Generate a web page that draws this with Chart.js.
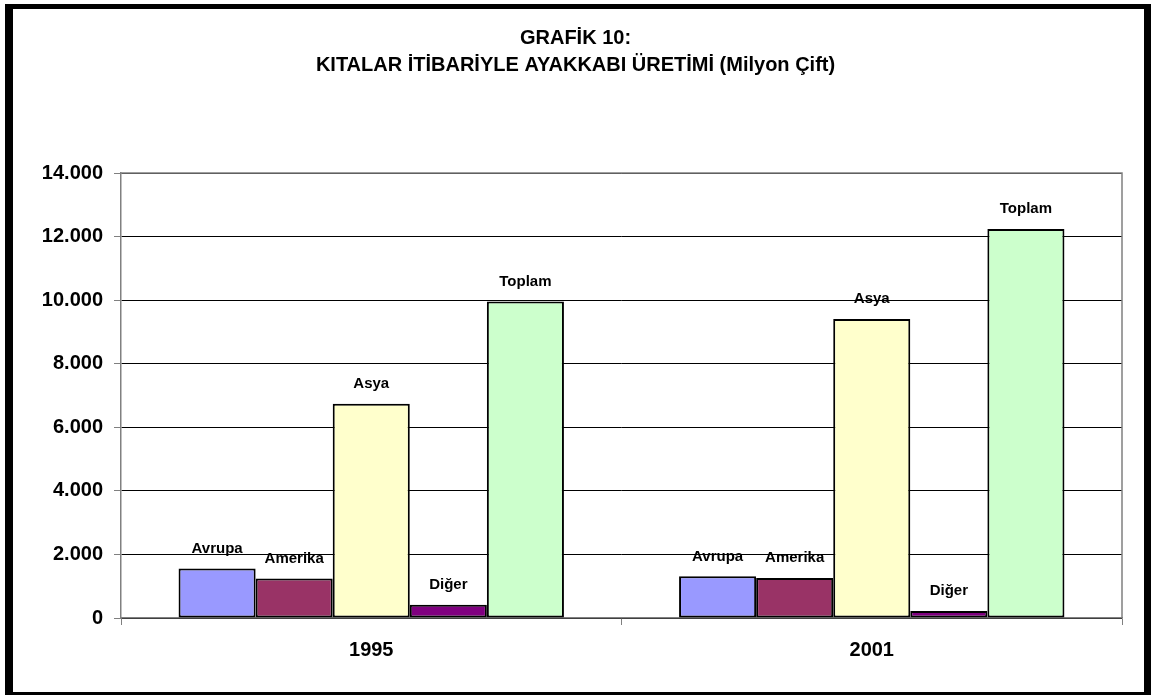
<!DOCTYPE html>
<html>
<head>
<meta charset="utf-8">
<script src="https://cdn.jsdelivr.net/npm/chart.js@4"></script>
<style>
  body { margin: 0; background: #fff; }
  #wrap { position: relative; width: 1151px; height: 695px; }
  #frame {
    position: absolute; left: 5px; top: 4px; width: 1146px; height: 691px;
    box-sizing: border-box; border-style: solid; border-color: #000;
    border-width: 5px 7px 3px 8px; pointer-events: none;
  }
</style>
</head>
<body>
<div id="wrap">
  <canvas id="myChart" width="1151" height="695"></canvas>
  <div id="frame"></div>
</div>
<script>
// chart data (Milyon Çift)
const years = ["1995", "2001"];
const avrupa = [1560, 1310];
const amerika = [1240, 1260];
const asya = [6740, 9410];
const diger = [420, 220];
const toplam = [9960, 12240];
const yTickLabels = ["0", "2.000", "4.000", "6.000", "8.000", "10.000", "12.000", "14.000"];

const fontFam = "Arial, 'Liberation Sans', sans-serif";

// series name above every bar
const barNames = {
    id: 'barNames',
    afterDatasetsDraw(chart) {
        const ctx = chart.ctx;
        ctx.save();
        ctx.font = "bold 15px " + fontFam;
        ctx.fillStyle = "#000";
        ctx.textAlign = "center";
        ctx.textBaseline = "middle";
        chart.data.datasets.forEach(function(ds, i) {
            chart.getDatasetMeta(i).data.forEach(function(bar) {
                ctx.fillText(ds.label, bar.x, bar.y - 20);
            });
        });
        ctx.restore();
    }
};

// gray plot area border (top / right)
const plotBorder = {
    id: 'plotBorder',
    beforeDatasetsDraw(chart) {
        const a = chart.chartArea;
        const ctx = chart.ctx;
        ctx.save();
        ctx.strokeStyle = "#808080";
        ctx.lineWidth = 1.5;
        ctx.beginPath();
        ctx.moveTo(a.left, a.top);
        ctx.lineTo(a.right, a.top);
        ctx.lineTo(a.right, a.bottom);
        ctx.stroke();
        ctx.restore();
    }
};

const ctx = document.getElementById('myChart');

const myChart = new Chart(ctx, {
    type: 'bar',
    data: {
        labels: years,
        datasets: [
            { label: 'Avrupa', data: avrupa, backgroundColor: '#9999FF' },
            { label: 'Amerika', data: amerika, backgroundColor: '#993366' },
            { label: 'Asya', data: asya, backgroundColor: '#FFFFCC' },
            { label: 'Diğer', data: diger, backgroundColor: '#800080' },
            { label: 'Toplam', data: toplam, backgroundColor: '#CCFFCC' }
        ]
    },
    options: {
        responsive: false,
        animation: false,
        layout: { padding: { left: 29, right: 29, top: 0, bottom: 0 } },
        datasets: {
            bar: {
                borderColor: '#000',
                borderWidth: 2,
                borderSkipped: false,
                categoryPercentage: 0.77,
                barPercentage: 1.0
            }
        },
        plugins: {
            legend: { display: false },
            tooltip: { enabled: false },
            title: {
                display: true,
                text: ["GRAFİK 10:", "KITALAR İTİBARİYLE AYAKKABI ÜRETİMİ (Milyon Çift)"],
                color: '#000',
                font: { family: fontFam, size: 20, weight: 'bold', lineHeight: 1.35 },
                padding: { top: 25, bottom: 94 }
            }
        },
        scales: {
            x: {
                grid: {
                    offset: true,
                    drawOnChartArea: false,
                    tickLength: 7,
                    tickColor: '#808080'
                },
                border: { color: '#808080', width: 1.5 },
                ticks: {
                    color: '#000',
                    padding: 13,
                    font: { family: fontFam, size: 20, weight: 'bold' }
                },
                afterFit(scale) { scale.height = 77; }
            },
            y: {
                min: 0,
                max: 14000,
                grid: {
                    color: '#000',
                    lineWidth: 1,
                    tickLength: 7,
                    tickColor: '#808080'
                },
                border: { color: '#808080', width: 1.5 },
                ticks: {
                    stepSize: 2000,
                    color: '#000',
                    padding: 11,
                    font: { family: fontFam, size: 20, weight: 'bold' },
                    callback: function(value, index) { return yTickLabels[index]; }
                },
                afterFit(scale) { scale.width = 92; }
            }
        }
    },
    plugins: [plotBorder, barNames]
});
</script>
</body>
</html>
